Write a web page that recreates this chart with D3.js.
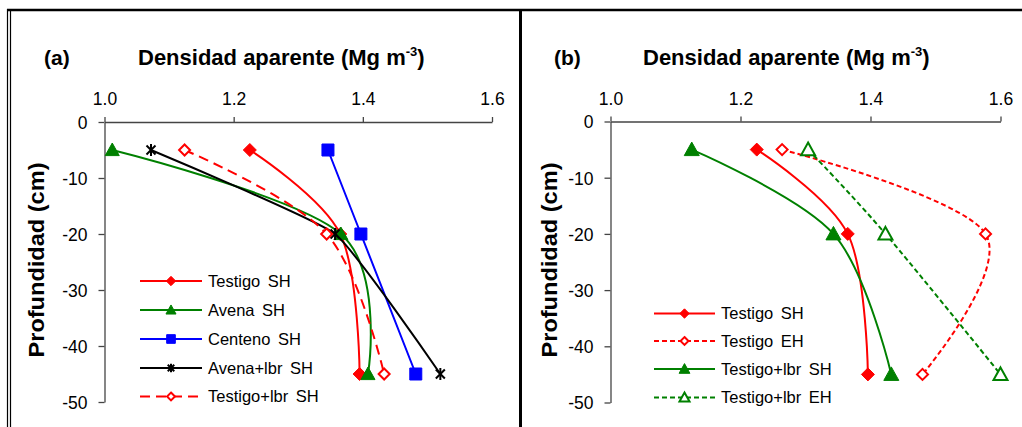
<!DOCTYPE html>
<html><head><meta charset="utf-8">
<script src="https://cdn.jsdelivr.net/npm/d3@7"></script>
<style>
html,body{margin:0;padding:0;background:#fff;}
svg{display:block;font-family:"Liberation Sans",Arial,sans-serif;}
</style></head>
<body><svg id="c" width="1022" height="427"></svg>
<script>
// ---- data ----
const depths = [-5, -20, -45];
const xTicks = [1.0, 1.2, 1.4, 1.6];
const yTicks = [0, -10, -20, -30, -40, -50];
const panelLabels = ["(a)", "(b)"];

const seriesNamesA = ["Testigo SH", "Avena SH", "Centeno SH", "Avena+lbr SH", "Testigo+lbr SH"];
const testigoSH = [1.225, 1.365, 1.395];
const avenaSH = [1.012, 1.366, 1.408];
const centenoSH = [1.346, 1.397, 1.482];
const avenaLbrSH = [1.072, 1.357, 1.52];
const testigoLbrSH = [1.124, 1.344, 1.433];

const seriesNamesB = ["Testigo SH", "Testigo EH", "Testigo+lbr SH", "Testigo+lbr EH"];
const testigoSH_b = [1.225, 1.365, 1.396];
const testigoEH = [1.264, 1.577, 1.48];
const testigoLbrSH_b = [1.125, 1.343, 1.432];
const testigoLbrEH = [1.304, 1.423, 1.6];

// ---- drawing ----
const svg = d3.select("#c");
const RED = "#ff0000", GREEN = "#008000", BLUE = "#0000ff", BLACK = "#000000";

// frame
svg.append("line").attr("x1",7.5).attr("x2",7.5).attr("y1",9).attr("y2",427).attr("stroke","#000").attr("stroke-width",1.2);
svg.append("line").attr("x1",10.5).attr("x2",10.5).attr("y1",11).attr("y2",427).attr("stroke","#000").attr("stroke-width",1.2);
svg.append("line").attr("x1",7).attr("x2",1022).attr("y1",10).attr("y2",10).attr("stroke","#000").attr("stroke-width",2.5);
svg.append("line").attr("x1",520.5).attr("x2",520.5).attr("y1",9).attr("y2",427).attr("stroke","#000").attr("stroke-width",3);

function drawMarker(g, type, filled, color, x, y, size) {
  if (type === "star") {
    const r = size/2;
    const s = g.append("g").attr("transform", `translate(${x},${y})`);
    [[-r*0.75,-r*0.75,r*0.75,r*0.75],[-r*0.75,r*0.75,r*0.75,-r*0.75],[0,-r,0,r]].forEach(l=>{
      s.append("line").attr("x1",l[0]).attr("y1",l[1]).attr("x2",l[2]).attr("y2",l[3]).attr("stroke",color).attr("stroke-width",2);
    });
    return;
  }
  let d;
  const r = size/2;
  if (type === "diamond") {
    d = `M0,${-r}L${r},0L0,${r}L${-r},0Z`;
  } else if (type === "triangle") {
    d = `M0,${-r}L${r},${r*0.8}L${-r},${r*0.8}Z`;
  } else if (type === "square") {
    d = `M${-r},${-r}H${r}V${r}H${-r}Z`;
  }
  g.append("path").attr("d", d).attr("transform", `translate(${x},${y})`)
    .attr("fill", filled ? color : "#fff").attr("stroke", color).attr("stroke-width", filled ? 1 : 2);
}

function panel(opt) {
  const g = svg.append("g");
  const x = d3.scaleLinear().domain([1.0, 1.6]).range(opt.xr);
  const y = d3.scaleLinear().domain([0, -50]).range(opt.yr);
  // axes
  const xa = g.append("g").attr("transform", `translate(0,${opt.yr[0]})`)
    .call(d3.axisTop(x).tickValues(xTicks).tickFormat(d3.format(".1f")).tickSizeInner(5).tickSizeOuter(0).tickPadding(12));
  const ya = g.append("g").attr("transform", `translate(${opt.xr[0]},0)`)
    .call(d3.axisLeft(y).tickValues(yTicks).tickFormat(d => d).tickSizeInner(6).tickSizeOuter(0).tickPadding(11));
  [xa, ya].forEach(a => {
    a.select(".domain").attr("stroke", "#444").attr("stroke-width", 1.3);
    a.selectAll(".tick line").attr("stroke", "#444").attr("stroke-width", 1.3);
    a.selectAll(".tick text").attr("fill", "#000").attr("font-size", 17.5).attr("font-family", "Liberation Sans, Arial, sans-serif");
  });
  ya.selectAll(".tick text").attr("dy", "0.36em");
  // titles
  g.append("text").attr("x", opt.labX).attr("y", 65).attr("font-size", 21).attr("font-weight", "bold").text(opt.label);
  const t = g.append("text").attr("x", opt.titleX).attr("y", 65).attr("font-size", 22).attr("font-weight", "bold");
  t.append("tspan").text("Densidad aparente (Mg m");
  t.append("tspan").attr("font-size", 13).attr("dy", -9).text("-3");
  t.append("tspan").attr("dy", 9).text(")");
  g.append("text").attr("transform", `translate(${opt.ylabX},260) rotate(-90)`).attr("text-anchor", "middle")
    .attr("font-size", 22).attr("font-weight", "bold").attr("textLength", 195).attr("lengthAdjust","spacingAndGlyphs").text("Profundidad (cm)");

  // series
  opt.series.forEach(s => {
    const pts = s.values.map((v, i) => [x(v), y(depths[i])]);
    const curve = s.smooth === true ? d3.curveCardinal.tension(0) : (s.smooth ? d3.curveCardinal.tension(s.smooth) : d3.curveLinear);
    const line = d3.line().curve(curve);
    g.append("path").attr("d", line(pts)).attr("fill", "none").attr("stroke", s.color)
      .attr("stroke-width", 2).attr("stroke-dasharray", s.dash || null);
    pts.forEach(p => drawMarker(g, s.marker, s.filled, s.color, p[0], p[1], s.msize));
  });
  // legend
  opt.series.forEach((s, i) => {
    const ly = opt.legY[i];
    g.append("line").attr("x1", opt.legX[0]).attr("x2", opt.legX[1]).attr("y1", ly).attr("y2", ly)
      .attr("stroke", s.color).attr("stroke-width", 2).attr("stroke-dasharray", s.dash || null);
    drawMarker(g, s.marker, s.filled, s.color, (opt.legX[0] + opt.legX[1]) / 2, ly, s.msize * 0.72);
    g.append("text").attr("x", opt.legX[1] + 6).attr("y", ly).attr("dy", "0.36em").attr("font-size", 16.5)
      .attr("word-spacing", 3).text(s.name);
  });
}

panel({
  label: panelLabels[0],
  xr: [104.5, 492], yr: [122, 402], labX: 44, titleX: 138, ylabX: 44,
  legX: [140, 202], legY: [281, 310, 339, 368, 396.5],
  series: [
    {name: seriesNamesA[0], values: testigoSH, color: RED, marker: "diamond", filled: true, smooth: true, msize: 13},
    {name: seriesNamesA[1], values: avenaSH, color: GREEN, marker: "triangle", filled: true, smooth: true, msize: 14},
    {name: seriesNamesA[2], values: centenoSH, color: BLUE, marker: "square", filled: true, smooth: false, msize: 12},
    {name: seriesNamesA[3], values: avenaLbrSH, color: BLACK, marker: "star", filled: true, smooth: 0.6, msize: 12},
    {name: seriesNamesA[4], values: testigoLbrSH, color: RED, marker: "diamond", filled: false, smooth: true, msize: 11, dash: "10,6"}
  ]
});
panel({
  label: panelLabels[1],
  xr: [610.5, 1000.5], yr: [121.5, 402.5], labX: 554, titleX: 643, ylabX: 557,
  legX: [654, 715], legY: [313.5, 341, 369, 397.5],
  series: [
    {name: seriesNamesB[0], values: testigoSH_b, color: RED, marker: "diamond", filled: true, smooth: true, msize: 13},
    {name: seriesNamesB[1], values: testigoEH, color: RED, marker: "diamond", filled: false, smooth: true, msize: 11, dash: "5,3"},
    {name: seriesNamesB[2], values: testigoLbrSH_b, color: GREEN, marker: "triangle", filled: true, smooth: true, msize: 15},
    {name: seriesNamesB[3], values: testigoLbrEH, color: GREEN, marker: "triangle", filled: false, smooth: true, msize: 14, dash: "5,3"}
  ]
});
</script></body></html>
